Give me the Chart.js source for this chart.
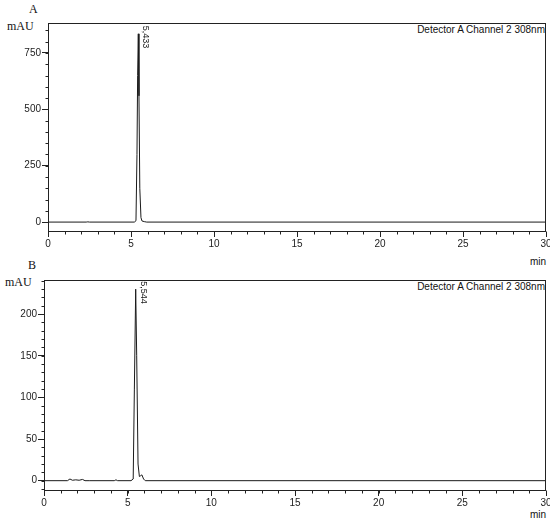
<!DOCTYPE html>
<html>
<head>
<meta charset="utf-8">
<script src="https://cdn.jsdelivr.net/npm/chart.js@4/dist/chart.umd.min.js"></script>
<style>
  html, body { margin:0; padding:0; background:#fff; }
  body { width:550px; height:524px; position:relative; overflow:hidden; }
  canvas { position:absolute; left:0; }
  .t { position:absolute; white-space:nowrap; line-height:12px; color:#111; }
  .serif { font-family:'Liberation Serif','Times New Roman',serif; font-size:12px; }
  .sans { font-family:'Liberation Sans',Arial,sans-serif; font-size:10px; }
</style>
</head>
<body>
<div class="t serif" style="left:29px;top:3px;">A</div>
<div class="t serif" style="left:7px;top:20px;">mAU</div>
<div class="t sans" style="right:5px;top:24px;">Detector A Channel 2 308nm</div>
<div class="t sans" style="right:4px;top:256px;">min</div>
<canvas id="cA" width="550" height="258" style="top:0px;"></canvas>

<div class="t serif" style="left:28px;top:259px;">B</div>
<div class="t serif" style="left:5px;top:276px;">mAU</div>
<div class="t sans" style="right:5px;top:281px;">Detector A Channel 2 308nm</div>
<div class="t sans" style="right:4px;top:509px;">min</div>
<canvas id="cB" width="550" height="266" style="top:258px;"></canvas>

<script>
// ---- Data ----
const timeA = [0, 2.30, 2.40, 2.50, 5.20, 5.30, 5.36, 5.40, 5.44, 5.48, 5.53, 5.60, 5.66, 5.80, 5.95, 30];
const absA  = [0, 0,    1,    0,    0,    6,    300,  650,  835,  560,  150,  20,   5,    2,    0,    0];
const peakLabelA = '5,433';

const timeB = [0, 1.40, 1.55, 1.70, 1.90, 2.10, 2.30, 2.45, 2.70, 4.20, 4.30, 4.40, 5.20, 5.33, 5.40, 5.48, 5.54, 5.62, 5.70, 5.78, 5.85, 5.95, 6.05, 30];
const absB  = [0, 0,    2,    0.5,  1,    0.5,  1.5,  0,    0,    0,    1,    0,    0,    2,    110,  230,  150,  20,   5,    6,    7,    2,    0,    0];
const peakLabelB = '5,544';

const xMajorTicks = [0, 5, 10, 15, 20, 25, 30];
const yMajorTicksA = [0, 250, 500, 750];
const yMajorTicksB = [0, 50, 100, 150, 200];
const xMinorStep = 1;
const yMinorStepA = 50;
const yMinorStepB = 10;

const INK = '#222';
Chart.defaults.font.family = "'Liberation Sans', Arial, sans-serif";
Chart.defaults.color = INK;

function framePlugin(minorX, minorY, label, times, vals) {
  return {
    id: 'frame',
    afterDraw(chart) {
      const ctx = chart.ctx, a = chart.chartArea;
      const xs = chart.scales.x, ys = chart.scales.y;
      ctx.save();
      ctx.strokeStyle = INK;
      ctx.lineWidth = 1;
      const L = Math.round(a.left) + 0.5, R = Math.round(a.right) - 0.5;
      const T = Math.round(a.top) + 0.5, B = Math.round(a.bottom) - 0.5;
      ctx.strokeRect(L, T, R - L, B - T);
      // minor ticks x
      ctx.beginPath();
      for (let v = xs.min; v <= xs.max + 1e-9; v += minorX) {
        const px = Math.round(xs.getPixelForValue(v)) + 0.5;
        ctx.moveTo(px, B); ctx.lineTo(px, B + 3);
      }
      // minor ticks y
      const start = Math.ceil(ys.min / minorY) * minorY;
      for (let v = start; v <= ys.max + 1e-9; v += minorY) {
        const py = Math.round(ys.getPixelForValue(v)) + 0.5;
        ctx.moveTo(L, py); ctx.lineTo(L - 3, py);
      }
      ctx.stroke();
      // peak label (rotated) at the apex of the series
      let k = 0;
      vals.forEach((v, i) => { if (v > vals[k]) k = i; });
      const px = xs.getPixelForValue(times[k]);
      const py = ys.getPixelForValue(vals[k]);
      ctx.translate(px + 7.5, py - 8);
      ctx.rotate(Math.PI / 2);
      ctx.fillStyle = INK;
      ctx.font = "9px 'Liberation Sans', Arial, sans-serif";
      ctx.textAlign = 'left';
      ctx.textBaseline = 'middle';
      ctx.fillText(label, 0, 0);
      ctx.restore();
    }
  };
}

function makeChart(id, times, vals, yMin, yMax, yTicks, yWidth, xHeight, padTop, minorY, label) {
  return new Chart(document.getElementById(id), {
    type: 'line',
    data: {
      datasets: [{
        data: times.map((t, i) => ({ x: t, y: vals[i] })),
        borderColor: '#1a1a1a',
        borderWidth: 1,
        pointRadius: 0,
        tension: 0,
        fill: false
      }]
    },
    options: {
      responsive: false,
      animation: false,
      devicePixelRatio: 1,
      layout: { padding: { top: padTop, right: 4, left: 0, bottom: 0 } },
      plugins: { legend: { display: false }, tooltip: { enabled: false }, title: { display: false } },
      scales: {
        x: {
          type: 'linear', min: 0, max: 30,
          afterBuildTicks: s => { s.ticks = xMajorTicks.map(v => ({ value: v })); },
          afterFit: s => { s.height = xHeight; s.paddingLeft = 0; s.paddingRight = 0; },
          ticks: { padding: 1, font: { size: 10 }, color: INK, maxRotation: 0, autoSkip: false },
          grid: { display: true, drawOnChartArea: false, drawTicks: true, tickLength: 5, tickColor: INK, tickWidth: 1 },
          border: { display: false }
        },
        y: {
          type: 'linear', min: yMin, max: yMax,
          afterBuildTicks: s => { s.ticks = yTicks.map(v => ({ value: v })); },
          afterFit: s => { s.width = yWidth; s.paddingTop = 0; s.paddingBottom = 0; },
          ticks: { padding: 1, font: { size: 10 }, color: INK },
          grid: { display: true, drawOnChartArea: false, drawTicks: true, tickLength: 6, tickColor: INK, tickWidth: 1 },
          border: { display: false }
        }
      }
    },
    plugins: [framePlugin(xMinorStep, minorY, label, times, vals)]
  });
}

makeChart('cA', timeA, absA, -44, 883, yMajorTicksA, 48, 26, 23, yMinorStepA, peakLabelA);
makeChart('cB', timeB, absB, -12.4, 241, yMajorTicksB, 44, 33, 22, yMinorStepB, peakLabelB);
</script>
</body>
</html>
